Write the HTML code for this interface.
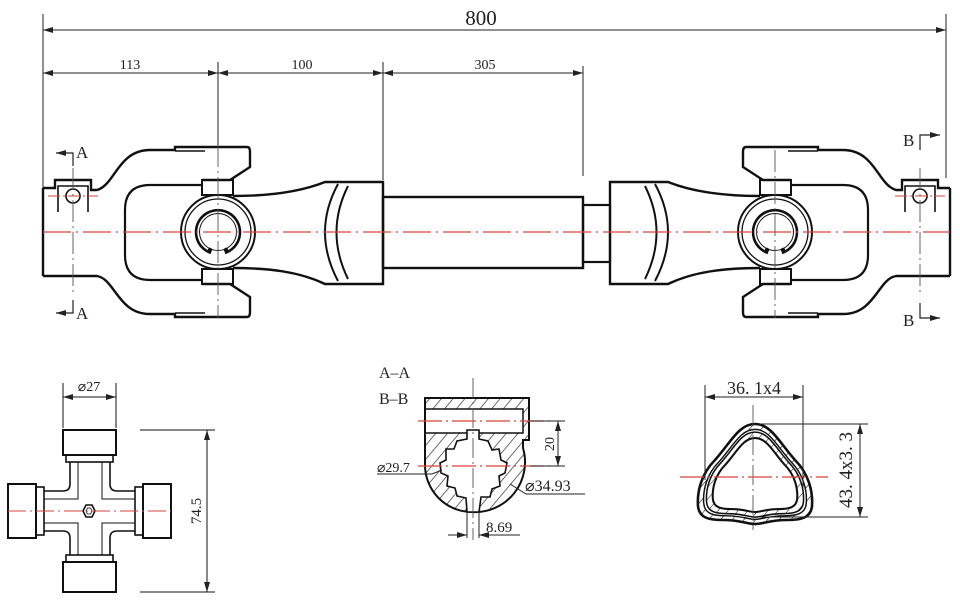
<!DOCTYPE html>
<html><head><meta charset="utf-8"><style>
html,body{margin:0;padding:0;background:#fff;}
svg{display:block;}
text{font-family:"Liberation Serif",serif;fill:#222;}
</style></head><body>
<svg width="960" height="601" viewBox="0 0 960 601" xmlns="http://www.w3.org/2000/svg">
<defs>
<marker id="ar" viewBox="0 0 10 6" refX="10" refY="3" markerWidth="10" markerHeight="6" orient="auto-start-reverse" markerUnits="userSpaceOnUse"><path d="M0,0 L10,3 L0,6 Z" fill="#222"/></marker>
<pattern id="h" width="9" height="9" patternUnits="userSpaceOnUse" patternTransform="rotate(40)"><rect width="9" height="9" fill="#fff"/><line x1="0" y1="0" x2="0" y2="9" stroke="#222" stroke-width="1.3"/></pattern>
<path id="tp" d="M0,-54 C16,-54 24,-36 40,-18 C54,-4 58,14 57,28 C56,40 46,42 32,42 C14,42 8,46 0,46 C-8,46 -14,42 -32,42 C-46,42 -56,40 -57,28 C-58,14 -54,-4 -40,-18 C-24,-36 -16,-54 0,-54 Z"/>
<g id="yoke">
 <path d="M43,188 H55 V180 H91 V190 H97 C115,185 118,150 150,150 H175 V147 H247 Q250,147 250,152 V167 L230,180 H202" fill="none" stroke="#111" stroke-width="2.4"/>
 <path d="M43,276 H97 C115,279 118,314 150,314 H175 V317 H247 Q250,317 250,312 V297 L230,284 H202" fill="none" stroke="#111" stroke-width="2.4"/>
 <line x1="43" y1="188" x2="43" y2="276" stroke="#111" stroke-width="2.4"/>
 <path d="M58,212 V186 H88 V212" fill="none" stroke="#111" stroke-width="1.6"/>
 <circle cx="73" cy="196" r="7" fill="none" stroke="#111" stroke-width="1.6"/>
 <line x1="175" y1="151" x2="205" y2="151" stroke="#111" stroke-width="1.4"/>
 <line x1="175" y1="313" x2="205" y2="313" stroke="#111" stroke-width="1.4"/>
 <path d="M202,185 H150 Q125,185 125,210 V255 Q125,280 150,280 H202" fill="none" stroke="#111" stroke-width="2.2"/>
 <rect x="202" y="180" width="31" height="15" fill="none" stroke="#111" stroke-width="2"/>
 <rect x="202" y="269" width="31" height="15" fill="none" stroke="#111" stroke-width="2"/>
 <path d="M233,196 C270,196 300,192 325,182 H383 V284 H325 C300,272 270,268 233,268" fill="none" stroke="#111" stroke-width="2.4"/>
 <path d="M338,184 Q312,232 338,281" fill="none" stroke="#111" stroke-width="2"/>
 <path d="M348,186 Q325,232 348,279" fill="none" stroke="#111" stroke-width="2"/>
 <circle cx="218" cy="232" r="37" fill="#fff" stroke="#111" stroke-width="2"/>
 <circle cx="218" cy="232" r="33" fill="none" stroke="#111" stroke-width="1.3"/>
 <path d="M211,253 A22,22 0 1 1 225,253" fill="none" stroke="#111" stroke-width="2.6"/>
 <circle cx="218" cy="232" r="18.5" fill="none" stroke="#111" stroke-width="1"/>
 <circle cx="210" cy="250" r="2.2" fill="#111"/><circle cx="226" cy="250" r="2.2" fill="#111"/>
</g>
</defs>

<g stroke="#222" stroke-width="1">
 <line x1="43" y1="14" x2="43" y2="190"/>
 <line x1="946" y1="14" x2="946" y2="178"/>
 <line x1="218" y1="62" x2="218" y2="145"/>
 <line x1="383" y1="62" x2="383" y2="180"/>
 <line x1="583" y1="66" x2="583" y2="176"/>
 <line x1="43" y1="30" x2="946" y2="30" marker-start="url(#ar)" marker-end="url(#ar)"/>
 <line x1="43" y1="73" x2="218" y2="73" marker-start="url(#ar)" marker-end="url(#ar)"/>
 <line x1="218" y1="73" x2="383" y2="73" marker-start="url(#ar)" marker-end="url(#ar)"/>
 <line x1="383" y1="73" x2="583" y2="73" marker-start="url(#ar)" marker-end="url(#ar)"/>
</g>
<text x="481" y="25" font-size="21" text-anchor="middle">800</text>
<text x="130" y="69" font-size="14" text-anchor="middle">113</text>
<text x="302" y="69" font-size="14" text-anchor="middle">100</text>
<text x="485" y="69" font-size="14" text-anchor="middle">305</text>

<use href="#yoke"/>
<g transform="translate(993,0) scale(-1,1)"><use href="#yoke"/></g>
<rect x="383" y="197" width="200" height="71" fill="none" stroke="#111" stroke-width="2.4"/>
<rect x="583" y="205" width="27" height="57" fill="none" stroke="#111" stroke-width="2.2"/>

<line x1="43" y1="232" x2="950" y2="232" stroke="#d9443a" stroke-width="1.2" stroke-dasharray="28,5,2,5"/>
<line x1="48" y1="196" x2="98" y2="196" stroke="#d9443a" stroke-width="1" stroke-dasharray="12,3,2,3"/>
<line x1="895" y1="196" x2="945" y2="196" stroke="#d9443a" stroke-width="1" stroke-dasharray="12,3,2,3"/>
<g stroke="#555" stroke-width="0.9" stroke-dasharray="22,4,2,4">
 <line x1="218" y1="145" x2="218" y2="318"/>
 <line x1="775" y1="150" x2="775" y2="318"/>
 <line x1="73" y1="168" x2="73" y2="295"/>
 <line x1="920" y1="168" x2="920" y2="295"/>
</g>

<g stroke="#222" stroke-width="1.2" fill="none">
 <path d="M73,166 V153 H56" marker-end="url(#ar)"/>
 <path d="M73,300 V313 H56" marker-end="url(#ar)"/>
 <path d="M920,150 V135 H940" marker-end="url(#ar)"/>
 <path d="M920,303 V318 H940" marker-end="url(#ar)"/>
</g>
<text x="76" y="158" font-size="17">A</text>
<text x="76" y="319" font-size="17">A</text>
<text x="903" y="146" font-size="17">B</text>
<text x="903" y="326" font-size="17">B</text>

<g fill="none" stroke="#111" stroke-width="1.6">
 <line x1="63" y1="383" x2="63" y2="428" stroke-width="1"/>
 <line x1="116" y1="383" x2="116" y2="428" stroke-width="1"/>
 <line x1="63" y1="397" x2="116" y2="397" stroke-width="1" marker-start="url(#ar)" marker-end="url(#ar)"/>
 <line x1="140" y1="430" x2="215" y2="430" stroke-width="1"/>
 <line x1="140" y1="592" x2="215" y2="592" stroke-width="1"/>
 <line x1="207" y1="430" x2="207" y2="592" stroke-width="1" marker-start="url(#ar)" marker-end="url(#ar)"/>
 <rect x="63" y="430" width="53" height="25" stroke-width="2"/>
 <rect x="66" y="455" width="47" height="7"/>
 <rect x="63" y="562" width="53" height="30" stroke-width="2"/>
 <rect x="66" y="555" width="47" height="7"/>
 <rect x="8" y="484" width="28" height="54" stroke-width="2"/>
 <rect x="36" y="487" width="8" height="48"/>
 <rect x="143" y="484" width="28" height="54" stroke-width="2"/>
 <rect x="135" y="487" width="8" height="48"/>
 <path d="M70,462 V484 Q70,491 63,491 H44 M110,462 V484 Q110,491 117,491 H135 M70,555 V538 Q70,531 63,531 H44 M110,555 V538 Q110,531 117,531 H135"/>
 <path d="M78,462 V499 H44 M102,462 V499 H135 M78,555 V523 H44 M102,555 V523 H135" stroke-width="1"/>
 <polygon points="83,511 86,505 92,505 95,511 92,517 86,517"/>
 <polygon points="86,511 87.5,508 90.5,508 92,511 90.5,514 87.5,514" stroke-width="0.8"/>
</g>
<line x1="8" y1="511" x2="171" y2="511" stroke="#d9443a" stroke-width="1" stroke-dasharray="18,4,2,4"/>
<text x="89" y="391" font-size="14" text-anchor="middle">⌀27</text>
<text x="0" y="0" font-size="15" text-anchor="middle" transform="translate(201,511) rotate(-90)">74.5</text>

<text x="379" y="378" font-size="16">A–A</text>
<text x="379" y="404" font-size="16">B–B</text>
<path d="M425,398 H529 V440 H523 V448 A50,50 0 0 1 472,512 A47,47 0 0 1 425,465 Z" fill="url(#h)" stroke="#111" stroke-width="2"/>
<rect x="425" y="409" width="98" height="24" fill="#fff" stroke="#111" stroke-width="1.5"/>
<line x1="425" y1="409" x2="425" y2="433" stroke="#111" stroke-width="2"/>
<path d="M467,430 H479 V439 L488,441 L492,450 L499,449 L501,460 L507,463 L505,473 L499,476 L500,486 L492,489 L490,497 L481,497 L479,512 H467 L466,498 L457,496 L455,488 L447,486 L448,476 L441,473 L440,463 L446,460 L446,449 L454,449 L457,441 L467,439 Z" fill="#fff" stroke="#111" stroke-width="1.6"/>
<line x1="473" y1="378" x2="473" y2="540" stroke="#555" stroke-width="0.9" stroke-dasharray="20,4,2,4"/>
<line x1="418" y1="421" x2="552" y2="421" stroke="#d9443a" stroke-width="1.2" stroke-dasharray="24,4,2,4"/>
<line x1="418" y1="466" x2="552" y2="466" stroke="#d9443a" stroke-width="1.2" stroke-dasharray="24,4,2,4"/>
<g stroke="#222" stroke-width="1" fill="none">
 <line x1="530" y1="421" x2="565" y2="421"/><line x1="530" y1="466" x2="565" y2="466"/>
 <line x1="558" y1="421" x2="558" y2="466" marker-start="url(#ar)" marker-end="url(#ar)"/>
 <line x1="467" y1="512" x2="467" y2="538"/><line x1="479" y1="512" x2="479" y2="538"/>
 <line x1="448" y1="535" x2="467" y2="535" marker-end="url(#ar)"/>
 <line x1="520" y1="535" x2="479" y2="535" marker-end="url(#ar)"/>
 <path d="M377,474 H432 L442,470"/>
 <path d="M585,494 H526 L510,484"/>
</g>
<text x="0" y="0" font-size="14" text-anchor="middle" transform="translate(554,444) rotate(-90)">20</text>
<text x="486" y="532" font-size="15">8.69</text>
<text x="377" y="472" font-size="14">⌀29.7</text>
<text x="525" y="491" font-size="16">⌀34.93</text>

<g transform="translate(755,478)">
 <use href="#tp" fill="url(#h)" stroke="#111" stroke-width="2.6"/>
 <g transform="scale(0.9)"><use href="#tp" fill="#fff" stroke="#111" stroke-width="1.6"/></g>
 <g transform="scale(0.85)"><use href="#tp" fill="url(#h)" stroke="#111" stroke-width="1.8"/></g>
 <g transform="scale(0.74)"><use href="#tp" fill="#fff" stroke="#111" stroke-width="2.8"/></g>
</g>
<line x1="753" y1="405" x2="753" y2="530" stroke="#555" stroke-width="0.9" stroke-dasharray="20,4,2,4"/>
<line x1="680" y1="477" x2="828" y2="477" stroke="#d9443a" stroke-width="1.2" stroke-dasharray="24,4,2,4"/>
<g stroke="#222" stroke-width="1" fill="none">
 <line x1="705" y1="385" x2="705" y2="480"/><line x1="803" y1="385" x2="803" y2="490"/>
 <line x1="705" y1="397" x2="803" y2="397" marker-start="url(#ar)" marker-end="url(#ar)"/>
 <line x1="758" y1="424" x2="868" y2="424"/><line x1="758" y1="517" x2="868" y2="517"/>
 <line x1="860" y1="424" x2="860" y2="517" marker-start="url(#ar)" marker-end="url(#ar)"/>
</g>
<text x="754" y="394" font-size="18" text-anchor="middle">36. 1x4</text>
<text x="0" y="0" font-size="19" text-anchor="middle" transform="translate(852,470) rotate(-90)">43. 4x3. 3</text>
</svg>
</body></html>
